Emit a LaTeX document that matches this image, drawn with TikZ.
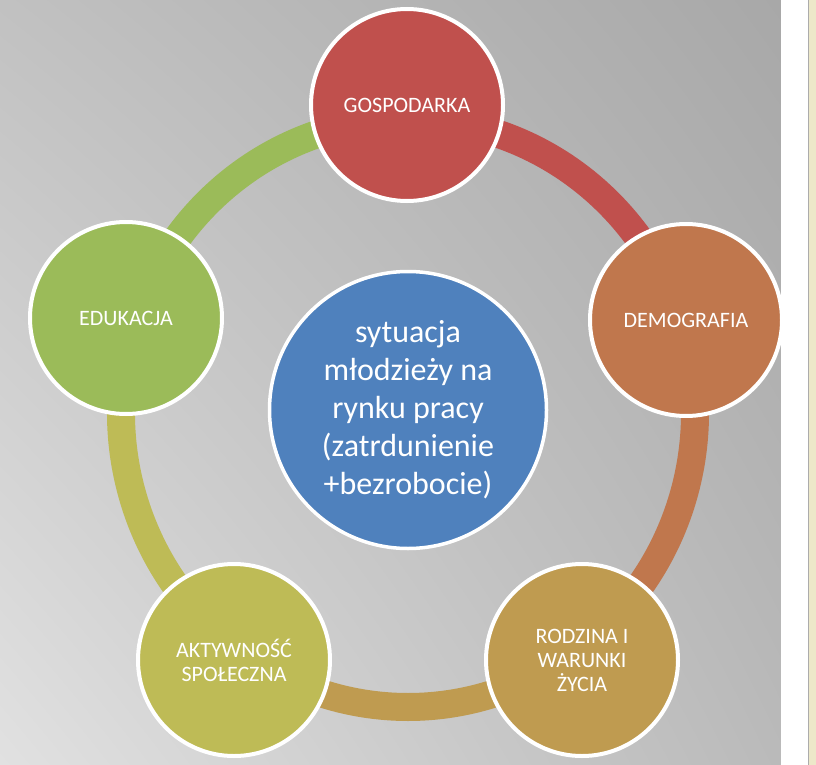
\documentclass[tikz,border=0pt]{standalone}
\usepackage{fontspec}
\setmainfont{Carlito}
\usetikzlibrary{shadings}
\definecolor{bgUL}{RGB}{193,193,193}
\definecolor{bgUR}{RGB}{168,168,168}
\definecolor{bgLL}{RGB}{225,225,225}
\definecolor{bgLR}{RGB}{186,186,186}
\definecolor{cream}{RGB}{237,232,201}
\definecolor{edgegray}{RGB}{172,172,172}
\definecolor{cRed}{RGB}{192,80,77}
\definecolor{cOrange}{RGB}{192,119,77}
\definecolor{cGold}{RGB}{191,155,80}
\definecolor{cOlive}{RGB}{190,187,86}
\definecolor{cGreen}{RGB}{155,187,89}
\definecolor{cBlue}{RGB}{79,129,189}
\begin{document}
\begin{tikzpicture}[x=1pt,y=-1pt,
  bubble/.style={circle, draw=white, line width=4pt, minimum size=192pt, inner sep=0pt,
    text=white, font=\fontsize{22}{24}\selectfont, align=center},
  hub/.style={circle, draw=white, line width=3.5pt, minimum size=277pt, inner sep=0pt,
    text=white, font=\fontsize{32}{38}\selectfont, align=center},
  ringarc/.style={line width=28pt}]
\useasboundingbox (0,0) rectangle (816,765);
% background
\shade[upper left=bgUL, upper right=bgUR, lower left=bgLL, lower right=bgLR] (0,0) rectangle (781,765);
\fill[white] (781,0) rectangle (808,765);
\fill[cream] (809,0) rectangle (816,765);
\draw[edgegray, line width=1pt] (808.5,0) -- (808.5,765);
% ring
\begin{scope}[shift={(408,413)}]
  \draw[ringarc, cRed] (-90:287 and 294) arc[start angle=-90, end angle=-18, x radius=287, y radius=294];
  \draw[ringarc, cOrange] (-18:287 and 294) arc[start angle=-18, end angle=54, x radius=287, y radius=294];
  \draw[ringarc, cGold] (54:287 and 294) arc[start angle=54, end angle=126, x radius=287, y radius=294];
  \draw[ringarc, cOlive] (126:287 and 294) arc[start angle=126, end angle=198, x radius=287, y radius=294];
  \draw[ringarc, cGreen] (198:287 and 294) arc[start angle=198, end angle=270, x radius=287, y radius=294];
\end{scope}
% nodes
\node[bubble, fill=cRed] (gosp) at (407,105) {GOSPODARKA};
\node[bubble, fill=cOrange] (demo) at (686,320) {DEMOGRAFIA};
\node[bubble, fill=cGold] (rodz) at (582,660) {RODZINA I\\WARUNKI\\ŻYCIA};
\node[bubble, fill=cOlive] (akty) at (234,660) {AKTYWNOŚĆ\\SPOŁECZNA};
\node[bubble, fill=cGreen] (edu) at (126,318) {EDUKACJA};
\node[hub, fill=cBlue] (hub) at (408,410) {sytuacja\\młodzieży na\\rynku pracy\\(zatrdunienie\\+bezrobocie)};
\end{tikzpicture}
\end{document}
